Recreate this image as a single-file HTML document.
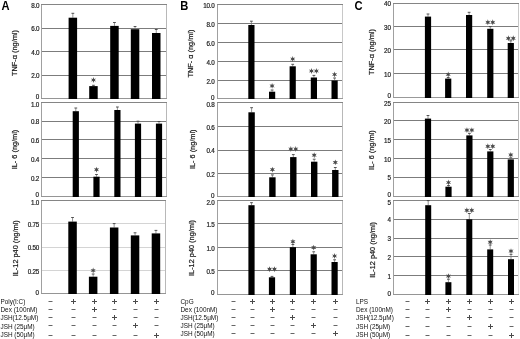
<!DOCTYPE html><html><head><meta charset="utf-8"><style>html,body{margin:0;padding:0;background:#fff;width:520px;height:339px;overflow:hidden}svg{display:block;will-change:transform}</style></head><body>
<svg width="520" height="339" viewBox="0 0 520 339" font-family='"Liberation Sans", sans-serif'>
<text transform="translate(1.4,9.6) scale(1,1.08)" font-size="11.2" font-weight="bold" fill="#000">A</text>
<text transform="translate(180.3,9.7) scale(1,1.08)" font-size="11.2" font-weight="bold" fill="#000">B</text>
<text transform="translate(354.6,9.5) scale(1,1.08)" font-size="11.2" font-weight="bold" fill="#000">C</text>
<line x1="41" y1="28.5" x2="167" y2="28.5" stroke="#7c7c7c" stroke-width="1"/>
<line x1="41" y1="51.5" x2="167" y2="51.5" stroke="#7c7c7c" stroke-width="1"/>
<line x1="41" y1="75.5" x2="167" y2="75.5" stroke="#7c7c7c" stroke-width="1"/>
<line x1="41.5" y1="4" x2="41.5" y2="99" stroke="#a0a0a0" stroke-width="1"/>
<line x1="166.5" y1="4" x2="166.5" y2="99" stroke="#b8b8b8" stroke-width="1"/>
<line x1="41" y1="4.5" x2="167" y2="4.5" stroke="#858585" stroke-width="1"/>
<line x1="41" y1="98.5" x2="167" y2="98.5" stroke="#959595" stroke-width="1"/>
<text x="39.2" y="7.75" text-anchor="end" font-size="6.3" fill="#222" stroke="#222" stroke-width="0.2" letter-spacing="-0.25">8.0</text>
<text x="39.2" y="31.25" text-anchor="end" font-size="6.3" fill="#222" stroke="#222" stroke-width="0.2" letter-spacing="-0.25">6.0</text>
<text x="39.2" y="54.85" text-anchor="end" font-size="6.3" fill="#222" stroke="#222" stroke-width="0.2" letter-spacing="-0.25">4.0</text>
<text x="39.2" y="78.45" text-anchor="end" font-size="6.3" fill="#222" stroke="#222" stroke-width="0.2" letter-spacing="-0.25">2.0</text>
<text x="39.2" y="99.45" text-anchor="end" font-size="6.3" fill="#222" stroke="#222" stroke-width="0.2">0</text>
<line x1="72.85" y1="13.3" x2="72.85" y2="17.7" stroke="#777" stroke-width="0.8"/>
<line x1="71.45" y1="13.3" x2="74.25" y2="13.3" stroke="#444" stroke-width="0.9"/>
<rect x="68.6" y="17.7" width="8.5" height="81.30" fill="#000"/>
<line x1="93.45" y1="85.3" x2="93.45" y2="86.1" stroke="#777" stroke-width="0.8"/>
<line x1="92.05" y1="85.3" x2="94.85" y2="85.3" stroke="#444" stroke-width="0.9"/>
<rect x="89.2" y="86.1" width="8.5" height="12.90" fill="#000"/>
<polygon points="93.45,77.05 94.08,78.92 96.00,78.53 94.70,80.00 96.00,81.47 94.08,81.08 93.45,82.95 92.83,81.08 90.90,81.47 92.20,80.00 90.90,78.53 92.83,78.92" fill="#4a4a4a"/>
<line x1="114.45" y1="22.5" x2="114.45" y2="25.9" stroke="#777" stroke-width="0.8"/>
<line x1="113.05" y1="22.5" x2="115.85" y2="22.5" stroke="#444" stroke-width="0.9"/>
<rect x="110.2" y="25.9" width="8.5" height="73.10" fill="#000"/>
<line x1="135.05" y1="26.5" x2="135.05" y2="29.2" stroke="#777" stroke-width="0.8"/>
<line x1="133.65" y1="26.5" x2="136.45" y2="26.5" stroke="#444" stroke-width="0.9"/>
<rect x="130.8" y="29.2" width="8.5" height="69.80" fill="#000"/>
<line x1="156.25" y1="29.5" x2="156.25" y2="33" stroke="#777" stroke-width="0.8"/>
<line x1="154.85" y1="29.5" x2="157.65" y2="29.5" stroke="#444" stroke-width="0.9"/>
<rect x="152" y="33" width="8.5" height="66.00" fill="#000"/>
<text transform="translate(16.9,53.0) rotate(-90)" text-anchor="middle" font-size="7.35" fill="#1a1a1a" stroke="#1a1a1a" stroke-width="0.2">TNF-α (ng/ml)</text>
<line x1="41" y1="121.5" x2="167" y2="121.5" stroke="#7c7c7c" stroke-width="1"/>
<line x1="41" y1="139.5" x2="167" y2="139.5" stroke="#7c7c7c" stroke-width="1"/>
<line x1="41" y1="158.5" x2="167" y2="158.5" stroke="#7c7c7c" stroke-width="1"/>
<line x1="41" y1="177.5" x2="167" y2="177.5" stroke="#7c7c7c" stroke-width="1"/>
<line x1="41.5" y1="102" x2="41.5" y2="197" stroke="#a0a0a0" stroke-width="1"/>
<line x1="166.5" y1="102" x2="166.5" y2="197" stroke="#b8b8b8" stroke-width="1"/>
<line x1="41" y1="102.5" x2="167" y2="102.5" stroke="#858585" stroke-width="1"/>
<line x1="41" y1="196.5" x2="167" y2="196.5" stroke="#959595" stroke-width="1"/>
<text x="39" y="106.85" text-anchor="end" font-size="6.3" fill="#222" stroke="#222" stroke-width="0.2" letter-spacing="-0.25">1.0</text>
<text x="39" y="124.43" text-anchor="end" font-size="6.3" fill="#222" stroke="#222" stroke-width="0.2" letter-spacing="-0.25">0.8</text>
<text x="39" y="143.21" text-anchor="end" font-size="6.3" fill="#222" stroke="#222" stroke-width="0.2" letter-spacing="-0.25">0.6</text>
<text x="39" y="161.99" text-anchor="end" font-size="6.3" fill="#222" stroke="#222" stroke-width="0.2" letter-spacing="-0.25">0.4</text>
<text x="39" y="180.77" text-anchor="end" font-size="6.3" fill="#222" stroke="#222" stroke-width="0.2" letter-spacing="-0.25">0.2</text>
<text x="39" y="197.45" text-anchor="end" font-size="6.3" fill="#222" stroke="#222" stroke-width="0.2">0</text>
<line x1="75.80" y1="108" x2="75.80" y2="111.2" stroke="#777" stroke-width="0.8"/>
<line x1="74.40" y1="108" x2="77.20" y2="108" stroke="#444" stroke-width="0.9"/>
<rect x="72.7" y="111.2" width="6.2" height="85.80" fill="#000"/>
<line x1="96.50" y1="174.5" x2="96.50" y2="176.7" stroke="#777" stroke-width="0.8"/>
<line x1="95.10" y1="174.5" x2="97.90" y2="174.5" stroke="#444" stroke-width="0.9"/>
<rect x="93.4" y="176.7" width="6.2" height="20.30" fill="#000"/>
<polygon points="96.50,166.75 97.12,168.62 99.05,168.22 97.75,169.70 99.05,171.17 97.12,170.78 96.50,172.65 95.88,170.78 93.95,171.17 95.25,169.70 93.95,168.22 95.88,168.62" fill="#4a4a4a"/>
<line x1="117.40" y1="107" x2="117.40" y2="110" stroke="#777" stroke-width="0.8"/>
<line x1="116.00" y1="107" x2="118.80" y2="107" stroke="#444" stroke-width="0.9"/>
<rect x="114.3" y="110" width="6.2" height="87.00" fill="#000"/>
<line x1="138.00" y1="121.2" x2="138.00" y2="123.6" stroke="#777" stroke-width="0.8"/>
<line x1="136.60" y1="121.2" x2="139.40" y2="121.2" stroke="#444" stroke-width="0.9"/>
<rect x="134.9" y="123.6" width="6.2" height="73.40" fill="#000"/>
<line x1="159.00" y1="121.5" x2="159.00" y2="123.6" stroke="#777" stroke-width="0.8"/>
<line x1="157.60" y1="121.5" x2="160.40" y2="121.5" stroke="#444" stroke-width="0.9"/>
<rect x="155.9" y="123.6" width="6.2" height="73.40" fill="#000"/>
<text transform="translate(17.0,149.5) rotate(-90)" text-anchor="middle" font-size="7.35" fill="#1a1a1a" stroke="#1a1a1a" stroke-width="0.2">IL- 6 (ng/ml)</text>
<line x1="41" y1="223.5" x2="166" y2="223.5" stroke="#d4d4d4" stroke-width="1"/>
<line x1="41" y1="247.5" x2="166" y2="247.5" stroke="#d4d4d4" stroke-width="1"/>
<line x1="41" y1="270.5" x2="166" y2="270.5" stroke="#d4d4d4" stroke-width="1"/>
<line x1="41.5" y1="200" x2="41.5" y2="294" stroke="#a0a0a0" stroke-width="1"/>
<line x1="165.5" y1="200" x2="165.5" y2="294" stroke="#b8b8b8" stroke-width="1"/>
<line x1="41" y1="200.5" x2="166" y2="200.5" stroke="#858585" stroke-width="1"/>
<line x1="41" y1="293.5" x2="166" y2="293.5" stroke="#959595" stroke-width="1"/>
<text x="39" y="204.75" text-anchor="end" font-size="6.3" fill="#222" stroke="#222" stroke-width="0.2" letter-spacing="-0.25">1.0</text>
<text x="39" y="226.95" text-anchor="end" font-size="6.3" fill="#222" stroke="#222" stroke-width="0.2" letter-spacing="-0.25">0.75</text>
<text x="39" y="250.35" text-anchor="end" font-size="6.3" fill="#222" stroke="#222" stroke-width="0.2" letter-spacing="-0.25">0.50</text>
<text x="39" y="273.75" text-anchor="end" font-size="6.3" fill="#222" stroke="#222" stroke-width="0.2" letter-spacing="-0.25">0.25</text>
<text x="39" y="295.05" text-anchor="end" font-size="6.3" fill="#222" stroke="#222" stroke-width="0.2">0</text>
<line x1="72.55" y1="217.5" x2="72.55" y2="221.6" stroke="#777" stroke-width="0.8"/>
<line x1="71.15" y1="217.5" x2="73.95" y2="217.5" stroke="#444" stroke-width="0.9"/>
<rect x="68.3" y="221.6" width="8.5" height="72.40" fill="#000"/>
<line x1="93.15" y1="274" x2="93.15" y2="276.7" stroke="#777" stroke-width="0.8"/>
<line x1="91.75" y1="274" x2="94.55" y2="274" stroke="#444" stroke-width="0.9"/>
<rect x="88.9" y="276.7" width="8.5" height="17.30" fill="#000"/>
<polygon points="93.15,267.55 93.78,269.42 95.70,269.02 94.40,270.50 95.70,271.98 93.78,271.58 93.15,273.45 92.53,271.58 90.60,271.98 91.90,270.50 90.60,269.02 92.53,269.42" fill="#4a4a4a"/>
<line x1="114.15" y1="223.6" x2="114.15" y2="227.5" stroke="#777" stroke-width="0.8"/>
<line x1="112.75" y1="223.6" x2="115.55" y2="223.6" stroke="#444" stroke-width="0.9"/>
<rect x="109.9" y="227.5" width="8.5" height="66.50" fill="#000"/>
<line x1="135.05" y1="232.8" x2="135.05" y2="235.4" stroke="#777" stroke-width="0.8"/>
<line x1="133.65" y1="232.8" x2="136.45" y2="232.8" stroke="#444" stroke-width="0.9"/>
<rect x="130.8" y="235.4" width="8.5" height="58.60" fill="#000"/>
<line x1="155.95" y1="230.4" x2="155.95" y2="233.4" stroke="#777" stroke-width="0.8"/>
<line x1="154.55" y1="230.4" x2="157.35" y2="230.4" stroke="#444" stroke-width="0.9"/>
<rect x="151.7" y="233.4" width="8.5" height="60.60" fill="#000"/>
<text transform="translate(18.0,248.3) rotate(-90)" text-anchor="middle" font-size="7.35" fill="#1a1a1a" stroke="#1a1a1a" stroke-width="0.2">IL-12 p40 (ng/ml)</text>
<text x="0.5" y="303.80" font-size="6.4" fill="#111">Poly(I:C)</text>
<text x="0.5" y="311.80" font-size="6.4" fill="#111">Dex (100nM)</text>
<text x="0.5" y="320.30" font-size="6.4" fill="#111">JSH(12.5μM)</text>
<text x="0.5" y="328.80" font-size="6.4" fill="#111">JSH (25μM)</text>
<text x="0.5" y="336.80" font-size="6.4" fill="#111">JSH (50μM)</text>
<path d="M71 301.5H76M73.5 299V304M92 301.5H97M94.5 299V304M112 301.5H117M114.5 299V304M133 301.5H138M135.5 299V304M154 301.5H159M156.5 299V304M92 309.5H97M94.5 307V312M112 317.5H117M114.5 315V320M133 325.5H138M135.5 323V328M154 335.5H159M156.5 333V338" stroke="#4a4a4a" stroke-width="1" fill="none"/>
<path d="M48.5 301.5H52.5M48.5 309.5H52.5M71.5 309.5H75.5M112.5 309.5H116.5M133.5 309.5H137.5M154.5 309.5H158.5M48.5 317.5H52.5M71.5 317.5H75.5M92.5 317.5H96.5M133.5 317.5H137.5M154.5 317.5H158.5M48.5 325.5H52.5M71.5 325.5H75.5M92.5 325.5H96.5M112.5 325.5H116.5M154.5 325.5H158.5M48.5 335.5H52.5M71.5 335.5H75.5M92.5 335.5H96.5M112.5 335.5H116.5M133.5 335.5H137.5" stroke="#666" stroke-width="1" fill="none"/>
<line x1="217" y1="23.5" x2="343" y2="23.5" stroke="#7c7c7c" stroke-width="1"/>
<line x1="217" y1="42.5" x2="343" y2="42.5" stroke="#7c7c7c" stroke-width="1"/>
<line x1="217" y1="61.5" x2="343" y2="61.5" stroke="#7c7c7c" stroke-width="1"/>
<line x1="217" y1="80.5" x2="343" y2="80.5" stroke="#7c7c7c" stroke-width="1"/>
<line x1="217.5" y1="4" x2="217.5" y2="99" stroke="#a0a0a0" stroke-width="1"/>
<line x1="342.5" y1="4" x2="342.5" y2="99" stroke="#c8c8c8" stroke-width="1"/>
<line x1="217" y1="4.5" x2="343" y2="4.5" stroke="#858585" stroke-width="1"/>
<line x1="217" y1="98.5" x2="343" y2="98.5" stroke="#999" stroke-width="1"/>
<text x="214.5" y="7.85" text-anchor="end" font-size="6.3" fill="#222" stroke="#222" stroke-width="0.2" letter-spacing="-0.25">10.0</text>
<text x="214.5" y="26.65" text-anchor="end" font-size="6.3" fill="#222" stroke="#222" stroke-width="0.2" letter-spacing="-0.25">8.0</text>
<text x="214.5" y="45.55" text-anchor="end" font-size="6.3" fill="#222" stroke="#222" stroke-width="0.2" letter-spacing="-0.25">6.0</text>
<text x="214.5" y="64.55" text-anchor="end" font-size="6.3" fill="#222" stroke="#222" stroke-width="0.2" letter-spacing="-0.25">4.0</text>
<text x="214.5" y="83.55" text-anchor="end" font-size="6.3" fill="#222" stroke="#222" stroke-width="0.2" letter-spacing="-0.25">2.0</text>
<text x="214.5" y="99.95" text-anchor="end" font-size="6.3" fill="#222" stroke="#222" stroke-width="0.2">0</text>
<line x1="251.40" y1="21.2" x2="251.40" y2="25" stroke="#777" stroke-width="0.8"/>
<line x1="250.00" y1="21.2" x2="252.80" y2="21.2" stroke="#444" stroke-width="0.9"/>
<rect x="248.3" y="25" width="6.2" height="74.00" fill="#000"/>
<line x1="272.10" y1="90" x2="272.10" y2="91.7" stroke="#777" stroke-width="0.8"/>
<line x1="270.70" y1="90" x2="273.50" y2="90" stroke="#444" stroke-width="0.9"/>
<rect x="269" y="91.7" width="6.2" height="7.30" fill="#000"/>
<polygon points="272.10,82.95 272.73,84.82 274.65,84.43 273.35,85.90 274.65,87.38 272.73,86.98 272.10,88.85 271.48,86.98 269.55,87.38 270.85,85.90 269.55,84.43 271.48,84.82" fill="#4a4a4a"/>
<line x1="292.70" y1="64.3" x2="292.70" y2="66.3" stroke="#777" stroke-width="0.8"/>
<line x1="291.30" y1="64.3" x2="294.10" y2="64.3" stroke="#444" stroke-width="0.9"/>
<rect x="289.6" y="66.3" width="6.2" height="32.70" fill="#000"/>
<polygon points="292.70,56.05 293.33,57.92 295.25,57.52 293.95,59.00 295.25,60.48 293.33,60.08 292.70,61.95 292.08,60.08 290.15,60.48 291.45,59.00 290.15,57.52 292.08,57.92" fill="#4a4a4a"/>
<line x1="313.90" y1="75.4" x2="313.90" y2="77.5" stroke="#777" stroke-width="0.8"/>
<line x1="312.50" y1="75.4" x2="315.30" y2="75.4" stroke="#444" stroke-width="0.9"/>
<rect x="310.8" y="77.5" width="6.2" height="21.50" fill="#000"/>
<polygon points="311.45,68.05 312.08,69.92 314.00,69.53 312.70,71.00 314.00,72.47 312.08,72.08 311.45,73.95 310.83,72.08 308.90,72.47 310.20,71.00 308.90,69.53 310.83,69.92" fill="#4a4a4a"/>
<polygon points="316.35,68.05 316.98,69.92 318.90,69.53 317.60,71.00 318.90,72.47 316.98,72.08 316.35,73.95 315.73,72.08 313.80,72.47 315.10,71.00 313.80,69.53 315.73,69.92" fill="#4a4a4a"/>
<line x1="334.60" y1="78" x2="334.60" y2="80.5" stroke="#777" stroke-width="0.8"/>
<line x1="333.20" y1="78" x2="336.00" y2="78" stroke="#444" stroke-width="0.9"/>
<rect x="331.5" y="80.5" width="6.2" height="18.50" fill="#000"/>
<polygon points="334.60,71.55 335.23,73.42 337.15,73.03 335.85,74.50 337.15,75.97 335.23,75.58 334.60,77.45 333.98,75.58 332.05,75.97 333.35,74.50 332.05,73.03 333.98,73.42" fill="#4a4a4a"/>
<text transform="translate(193.0,53.5) rotate(-90)" text-anchor="middle" font-size="7.35" fill="#1a1a1a" stroke="#1a1a1a" stroke-width="0.2">TNF- α (ng/ml)</text>
<line x1="217" y1="126.5" x2="343" y2="126.5" stroke="#7c7c7c" stroke-width="1"/>
<line x1="217" y1="150.5" x2="343" y2="150.5" stroke="#7c7c7c" stroke-width="1"/>
<line x1="217" y1="173.5" x2="343" y2="173.5" stroke="#7c7c7c" stroke-width="1"/>
<line x1="217.5" y1="102" x2="217.5" y2="197" stroke="#a0a0a0" stroke-width="1"/>
<line x1="342.5" y1="102" x2="342.5" y2="197" stroke="#b8b8b8" stroke-width="1"/>
<line x1="217" y1="102.5" x2="343" y2="102.5" stroke="#858585" stroke-width="1"/>
<line x1="217" y1="196.5" x2="343" y2="196.5" stroke="#959595" stroke-width="1"/>
<text x="214.5" y="107.05" text-anchor="end" font-size="6.3" fill="#222" stroke="#222" stroke-width="0.2" letter-spacing="-0.25">0.8</text>
<text x="214.5" y="129.65" text-anchor="end" font-size="6.3" fill="#222" stroke="#222" stroke-width="0.2" letter-spacing="-0.25">0.6</text>
<text x="214.5" y="153.45" text-anchor="end" font-size="6.3" fill="#222" stroke="#222" stroke-width="0.2" letter-spacing="-0.25">0.4</text>
<text x="214.5" y="176.65" text-anchor="end" font-size="6.3" fill="#222" stroke="#222" stroke-width="0.2" letter-spacing="-0.25">0.2</text>
<text x="214.5" y="197.55" text-anchor="end" font-size="6.3" fill="#222" stroke="#222" stroke-width="0.2">0</text>
<line x1="251.60" y1="107.7" x2="251.60" y2="112.3" stroke="#777" stroke-width="0.8"/>
<line x1="250.20" y1="107.7" x2="253.00" y2="107.7" stroke="#444" stroke-width="0.9"/>
<rect x="248.4" y="112.3" width="6.4" height="84.70" fill="#000"/>
<line x1="272.40" y1="174.9" x2="272.40" y2="177.3" stroke="#777" stroke-width="0.8"/>
<line x1="271.00" y1="174.9" x2="273.80" y2="174.9" stroke="#444" stroke-width="0.9"/>
<rect x="269.2" y="177.3" width="6.4" height="19.70" fill="#000"/>
<polygon points="272.40,166.65 273.02,168.52 274.95,168.12 273.65,169.60 274.95,171.07 273.02,170.68 272.40,172.55 271.77,170.68 269.85,171.07 271.15,169.60 269.85,168.12 271.77,168.52" fill="#4a4a4a"/>
<line x1="293.30" y1="154.6" x2="293.30" y2="157.1" stroke="#777" stroke-width="0.8"/>
<line x1="291.90" y1="154.6" x2="294.70" y2="154.6" stroke="#444" stroke-width="0.9"/>
<rect x="290.1" y="157.1" width="6.4" height="39.90" fill="#000"/>
<polygon points="290.85,146.05 291.48,147.92 293.40,147.53 292.10,149.00 293.40,150.47 291.48,150.08 290.85,151.95 290.23,150.08 288.30,150.47 289.60,149.00 288.30,147.53 290.23,147.92" fill="#4a4a4a"/>
<polygon points="295.75,146.05 296.38,147.92 298.30,147.53 297.00,149.00 298.30,150.47 296.38,150.08 295.75,151.95 295.12,150.08 293.20,150.47 294.50,149.00 293.20,147.53 295.12,147.92" fill="#4a4a4a"/>
<line x1="314.20" y1="159.2" x2="314.20" y2="161.7" stroke="#777" stroke-width="0.8"/>
<line x1="312.80" y1="159.2" x2="315.60" y2="159.2" stroke="#444" stroke-width="0.9"/>
<rect x="311" y="161.7" width="6.4" height="35.30" fill="#000"/>
<polygon points="314.20,152.25 314.82,154.12 316.75,153.72 315.45,155.20 316.75,156.67 314.82,156.28 314.20,158.15 313.57,156.28 311.65,156.67 312.95,155.20 311.65,153.72 313.57,154.12" fill="#4a4a4a"/>
<line x1="335.30" y1="167.5" x2="335.30" y2="170" stroke="#777" stroke-width="0.8"/>
<line x1="333.90" y1="167.5" x2="336.70" y2="167.5" stroke="#444" stroke-width="0.9"/>
<rect x="332.1" y="170" width="6.4" height="27.00" fill="#000"/>
<polygon points="335.30,159.45 335.93,161.32 337.85,160.93 336.55,162.40 337.85,163.88 335.93,163.48 335.30,165.35 334.68,163.48 332.75,163.88 334.05,162.40 332.75,160.93 334.68,161.32" fill="#4a4a4a"/>
<text transform="translate(195.0,149.3) rotate(-90)" text-anchor="middle" font-size="7.35" fill="#1a1a1a" stroke="#1a1a1a" stroke-width="0.2">IL- 6 (ng/ml)</text>
<line x1="217" y1="223.5" x2="343" y2="223.5" stroke="#7c7c7c" stroke-width="1"/>
<line x1="217" y1="247.5" x2="343" y2="247.5" stroke="#7c7c7c" stroke-width="1"/>
<line x1="217" y1="270.5" x2="343" y2="270.5" stroke="#7c7c7c" stroke-width="1"/>
<line x1="217.5" y1="200" x2="217.5" y2="295" stroke="#a0a0a0" stroke-width="1"/>
<line x1="342.5" y1="200" x2="342.5" y2="295" stroke="#b8b8b8" stroke-width="1"/>
<line x1="217" y1="200.5" x2="343" y2="200.5" stroke="#858585" stroke-width="1"/>
<line x1="217" y1="294.5" x2="343" y2="294.5" stroke="#959595" stroke-width="1"/>
<text x="214.5" y="204.85" text-anchor="end" font-size="6.3" fill="#222" stroke="#222" stroke-width="0.2" letter-spacing="-0.25">2.0</text>
<text x="214.5" y="227.10" text-anchor="end" font-size="6.3" fill="#222" stroke="#222" stroke-width="0.2" letter-spacing="-0.25">1.5</text>
<text x="214.5" y="250.55" text-anchor="end" font-size="6.3" fill="#222" stroke="#222" stroke-width="0.2" letter-spacing="-0.25">1.0</text>
<text x="214.5" y="274.00" text-anchor="end" font-size="6.3" fill="#222" stroke="#222" stroke-width="0.2" letter-spacing="-0.25">0.5</text>
<text x="214.5" y="295.35" text-anchor="end" font-size="6.3" fill="#222" stroke="#222" stroke-width="0.2">0</text>
<line x1="251.50" y1="202.7" x2="251.50" y2="205.2" stroke="#777" stroke-width="0.8"/>
<line x1="250.10" y1="202.7" x2="252.90" y2="202.7" stroke="#444" stroke-width="0.9"/>
<rect x="248.4" y="205.2" width="6.2" height="89.80" fill="#000"/>
<line x1="272.00" y1="276.4" x2="272.00" y2="277.3" stroke="#777" stroke-width="0.8"/>
<line x1="270.60" y1="276.4" x2="273.40" y2="276.4" stroke="#444" stroke-width="0.9"/>
<rect x="268.9" y="277.3" width="6.2" height="17.70" fill="#000"/>
<polygon points="269.55,266.25 270.18,268.12 272.10,267.72 270.80,269.20 272.10,270.68 270.18,270.28 269.55,272.15 268.93,270.28 267.00,270.68 268.30,269.20 267.00,267.72 268.93,268.12" fill="#4a4a4a"/>
<polygon points="274.45,266.25 275.07,268.12 277.00,267.72 275.70,269.20 277.00,270.68 275.07,270.28 274.45,272.15 273.82,270.28 271.90,270.68 273.20,269.20 271.90,267.72 273.82,268.12" fill="#4a4a4a"/>
<line x1="292.90" y1="244.5" x2="292.90" y2="247.2" stroke="#777" stroke-width="0.8"/>
<line x1="291.50" y1="244.5" x2="294.30" y2="244.5" stroke="#444" stroke-width="0.9"/>
<rect x="289.8" y="247.2" width="6.2" height="47.80" fill="#000"/>
<polygon points="292.90,238.75 293.53,240.62 295.45,240.22 294.15,241.70 295.45,243.17 293.53,242.78 292.90,244.65 292.28,242.78 290.35,243.17 291.65,241.70 290.35,240.22 292.28,240.62" fill="#4a4a4a"/>
<line x1="313.70" y1="251.8" x2="313.70" y2="254.3" stroke="#777" stroke-width="0.8"/>
<line x1="312.30" y1="251.8" x2="315.10" y2="251.8" stroke="#444" stroke-width="0.9"/>
<rect x="310.6" y="254.3" width="6.2" height="40.70" fill="#000"/>
<polygon points="313.70,244.65 314.33,246.52 316.25,246.12 314.95,247.60 316.25,249.07 314.33,248.68 313.70,250.55 313.08,248.68 311.15,249.07 312.45,247.60 311.15,246.12 313.08,246.52" fill="#4a4a4a"/>
<line x1="334.60" y1="259.8" x2="334.60" y2="262" stroke="#777" stroke-width="0.8"/>
<line x1="333.20" y1="259.8" x2="336.00" y2="259.8" stroke="#444" stroke-width="0.9"/>
<rect x="331.5" y="262" width="6.2" height="33.00" fill="#000"/>
<polygon points="334.60,253.05 335.23,254.92 337.15,254.53 335.85,256.00 337.15,257.48 335.23,257.08 334.60,258.95 333.98,257.08 332.05,257.48 333.35,256.00 332.05,254.53 333.98,254.92" fill="#4a4a4a"/>
<text transform="translate(194.0,248) rotate(-90)" text-anchor="middle" font-size="7.35" fill="#1a1a1a" stroke="#1a1a1a" stroke-width="0.2">IL-12 p40 (ng/ml)</text>
<text x="180.5" y="303.50" font-size="6.4" fill="#111">CpG</text>
<text x="180.5" y="312.10" font-size="6.4" fill="#111">Dex (100nM)</text>
<text x="180.5" y="320.30" font-size="6.4" fill="#111">JSH(12.5μM)</text>
<text x="180.5" y="328.10" font-size="6.4" fill="#111">JSH (25μM)</text>
<text x="180.5" y="335.90" font-size="6.4" fill="#111">JSH (50μM)</text>
<path d="M250 301.5H255M252.5 299V304M270 301.5H275M272.5 299V304M290 301.5H295M292.5 299V304M311 301.5H316M313.5 299V304M333 301.5H338M335.5 299V304M270 309.5H275M272.5 307V312M290 317.5H295M292.5 315V320M311 325.5H316M313.5 323V328M333 333.5H338M335.5 331V336" stroke="#4a4a4a" stroke-width="1" fill="none"/>
<path d="M231.5 301.5H235.5M231.5 309.5H235.5M250.5 309.5H254.5M290.5 309.5H294.5M311.5 309.5H315.5M333.5 309.5H337.5M231.5 317.5H235.5M250.5 317.5H254.5M270.5 317.5H274.5M311.5 317.5H315.5M333.5 317.5H337.5M231.5 325.5H235.5M250.5 325.5H254.5M270.5 325.5H274.5M290.5 325.5H294.5M333.5 325.5H337.5M231.5 333.5H235.5M250.5 333.5H254.5M270.5 333.5H274.5M290.5 333.5H294.5M311.5 333.5H315.5" stroke="#666" stroke-width="1" fill="none"/>
<line x1="393" y1="26.5" x2="519" y2="26.5" stroke="#7c7c7c" stroke-width="1"/>
<line x1="393" y1="49.5" x2="519" y2="49.5" stroke="#7c7c7c" stroke-width="1"/>
<line x1="393" y1="73.5" x2="519" y2="73.5" stroke="#7c7c7c" stroke-width="1"/>
<line x1="393.5" y1="3" x2="393.5" y2="98" stroke="#a0a0a0" stroke-width="1"/>
<line x1="518.5" y1="3" x2="518.5" y2="98" stroke="#c8c8c8" stroke-width="1"/>
<line x1="393" y1="3.5" x2="519" y2="3.5" stroke="#858585" stroke-width="1"/>
<line x1="393" y1="97.5" x2="519" y2="97.5" stroke="#999" stroke-width="1"/>
<text x="391" y="6.35" text-anchor="end" font-size="6.3" fill="#222" stroke="#222" stroke-width="0.2">40</text>
<text x="391" y="29.75" text-anchor="end" font-size="6.3" fill="#222" stroke="#222" stroke-width="0.2">30</text>
<text x="391" y="53.15" text-anchor="end" font-size="6.3" fill="#222" stroke="#222" stroke-width="0.2">20</text>
<text x="391" y="76.65" text-anchor="end" font-size="6.3" fill="#222" stroke="#222" stroke-width="0.2">10</text>
<text x="391" y="98.25" text-anchor="end" font-size="6.3" fill="#222" stroke="#222" stroke-width="0.2">0</text>
<line x1="428.00" y1="14" x2="428.00" y2="16.6" stroke="#777" stroke-width="0.8"/>
<line x1="426.60" y1="14" x2="429.40" y2="14" stroke="#444" stroke-width="0.9"/>
<rect x="424.9" y="16.6" width="6.2" height="81.40" fill="#000"/>
<line x1="448.20" y1="77.5" x2="448.20" y2="78.6" stroke="#777" stroke-width="0.8"/>
<line x1="446.80" y1="77.5" x2="449.60" y2="77.5" stroke="#444" stroke-width="0.9"/>
<rect x="445.1" y="78.6" width="6.2" height="19.40" fill="#000"/>
<polygon points="448.20,71.55 448.83,73.42 450.75,73.03 449.45,74.50 450.75,75.97 448.83,75.58 448.20,77.45 447.58,75.58 445.65,75.97 446.95,74.50 445.65,73.03 447.58,73.42" fill="#4a4a4a"/>
<line x1="469.10" y1="12.3" x2="469.10" y2="15" stroke="#777" stroke-width="0.8"/>
<line x1="467.70" y1="12.3" x2="470.50" y2="12.3" stroke="#444" stroke-width="0.9"/>
<rect x="466" y="15" width="6.2" height="83.00" fill="#000"/>
<line x1="490.30" y1="26.6" x2="490.30" y2="28.8" stroke="#777" stroke-width="0.8"/>
<line x1="488.90" y1="26.6" x2="491.70" y2="26.6" stroke="#444" stroke-width="0.9"/>
<rect x="487.2" y="28.8" width="6.2" height="69.20" fill="#000"/>
<polygon points="487.85,19.35 488.48,21.22 490.40,20.82 489.10,22.30 490.40,23.78 488.48,23.38 487.85,25.25 487.23,23.38 485.30,23.78 486.60,22.30 485.30,20.82 487.23,21.22" fill="#4a4a4a"/>
<polygon points="492.75,19.35 493.38,21.22 495.30,20.82 494.00,22.30 495.30,23.78 493.38,23.38 492.75,25.25 492.12,23.38 490.20,23.78 491.50,22.30 490.20,20.82 492.12,21.22" fill="#4a4a4a"/>
<line x1="510.80" y1="40.8" x2="510.80" y2="43" stroke="#777" stroke-width="0.8"/>
<line x1="509.40" y1="40.8" x2="512.20" y2="40.8" stroke="#444" stroke-width="0.9"/>
<rect x="507.7" y="43" width="6.2" height="55.00" fill="#000"/>
<polygon points="508.35,35.35 508.98,37.22 510.90,36.82 509.60,38.30 510.90,39.77 508.98,39.38 508.35,41.25 507.73,39.38 505.80,39.77 507.10,38.30 505.80,36.82 507.73,37.22" fill="#4a4a4a"/>
<polygon points="513.25,35.35 513.88,37.22 515.80,36.82 514.50,38.30 515.80,39.77 513.88,39.38 513.25,41.25 512.62,39.38 510.70,39.77 512.00,38.30 510.70,36.82 512.62,37.22" fill="#4a4a4a"/>
<text transform="translate(373.8,52) rotate(-90)" text-anchor="middle" font-size="7.35" fill="#1a1a1a" stroke="#1a1a1a" stroke-width="0.2">TNF-α (ng/ml)</text>
<line x1="393" y1="120.5" x2="519" y2="120.5" stroke="#7c7c7c" stroke-width="1"/>
<line x1="393" y1="139.5" x2="519" y2="139.5" stroke="#7c7c7c" stroke-width="1"/>
<line x1="393" y1="158.5" x2="519" y2="158.5" stroke="#7c7c7c" stroke-width="1"/>
<line x1="393" y1="177.5" x2="519" y2="177.5" stroke="#7c7c7c" stroke-width="1"/>
<line x1="393.5" y1="102" x2="393.5" y2="197" stroke="#a0a0a0" stroke-width="1"/>
<line x1="518.5" y1="102" x2="518.5" y2="197" stroke="#b8b8b8" stroke-width="1"/>
<line x1="393" y1="102.5" x2="519" y2="102.5" stroke="#858585" stroke-width="1"/>
<line x1="393" y1="196.5" x2="519" y2="196.5" stroke="#959595" stroke-width="1"/>
<text x="391" y="106.45" text-anchor="end" font-size="6.3" fill="#222" stroke="#222" stroke-width="0.2">25</text>
<text x="391" y="124.05" text-anchor="end" font-size="6.3" fill="#222" stroke="#222" stroke-width="0.2">20</text>
<text x="391" y="142.85" text-anchor="end" font-size="6.3" fill="#222" stroke="#222" stroke-width="0.2">15</text>
<text x="391" y="161.65" text-anchor="end" font-size="6.3" fill="#222" stroke="#222" stroke-width="0.2">10</text>
<text x="391" y="180.45" text-anchor="end" font-size="6.3" fill="#222" stroke="#222" stroke-width="0.2">5</text>
<text x="391" y="197.15" text-anchor="end" font-size="6.3" fill="#222" stroke="#222" stroke-width="0.2">0</text>
<line x1="428.00" y1="115.5" x2="428.00" y2="118.6" stroke="#777" stroke-width="0.8"/>
<line x1="426.60" y1="115.5" x2="429.40" y2="115.5" stroke="#444" stroke-width="0.9"/>
<rect x="424.9" y="118.6" width="6.2" height="78.40" fill="#000"/>
<line x1="448.50" y1="185.5" x2="448.50" y2="186.7" stroke="#777" stroke-width="0.8"/>
<line x1="447.10" y1="185.5" x2="449.90" y2="185.5" stroke="#444" stroke-width="0.9"/>
<rect x="445.4" y="186.7" width="6.2" height="10.30" fill="#000"/>
<polygon points="448.50,179.55 449.12,181.42 451.05,181.03 449.75,182.50 451.05,183.97 449.12,183.58 448.50,185.45 447.88,183.58 445.95,183.97 447.25,182.50 445.95,181.03 447.88,181.42" fill="#4a4a4a"/>
<line x1="469.40" y1="133.3" x2="469.40" y2="135.4" stroke="#777" stroke-width="0.8"/>
<line x1="468.00" y1="133.3" x2="470.80" y2="133.3" stroke="#444" stroke-width="0.9"/>
<rect x="466.3" y="135.4" width="6.2" height="61.60" fill="#000"/>
<polygon points="466.95,127.15 467.58,129.02 469.50,128.62 468.20,130.10 469.50,131.57 467.58,131.18 466.95,133.05 466.33,131.18 464.40,131.57 465.70,130.10 464.40,128.62 466.33,129.02" fill="#4a4a4a"/>
<polygon points="471.85,127.15 472.48,129.02 474.40,128.62 473.10,130.10 474.40,131.57 472.48,131.18 471.85,133.05 471.23,131.18 469.30,131.57 470.60,130.10 469.30,128.62 471.23,129.02" fill="#4a4a4a"/>
<line x1="490.30" y1="149.5" x2="490.30" y2="151.4" stroke="#777" stroke-width="0.8"/>
<line x1="488.90" y1="149.5" x2="491.70" y2="149.5" stroke="#444" stroke-width="0.9"/>
<rect x="487.2" y="151.4" width="6.2" height="45.60" fill="#000"/>
<polygon points="487.85,143.35 488.48,145.22 490.40,144.83 489.10,146.30 490.40,147.78 488.48,147.38 487.85,149.25 487.23,147.38 485.30,147.78 486.60,146.30 485.30,144.83 487.23,145.22" fill="#4a4a4a"/>
<polygon points="492.75,143.35 493.38,145.22 495.30,144.83 494.00,146.30 495.30,147.78 493.38,147.38 492.75,149.25 492.12,147.38 490.20,147.78 491.50,146.30 490.20,144.83 492.12,145.22" fill="#4a4a4a"/>
<line x1="510.80" y1="157.8" x2="510.80" y2="159.4" stroke="#777" stroke-width="0.8"/>
<line x1="509.40" y1="157.8" x2="512.20" y2="157.8" stroke="#444" stroke-width="0.9"/>
<rect x="507.7" y="159.4" width="6.2" height="37.60" fill="#000"/>
<polygon points="510.80,151.95 511.43,153.82 513.35,153.43 512.05,154.90 513.35,156.38 511.43,155.98 510.80,157.85 510.18,155.98 508.25,156.38 509.55,154.90 508.25,153.43 510.18,153.82" fill="#4a4a4a"/>
<text transform="translate(374.0,150.1) rotate(-90)" text-anchor="middle" font-size="7.35" fill="#1a1a1a" stroke="#1a1a1a" stroke-width="0.2">IL- 6 (ng/ml)</text>
<line x1="393" y1="219.5" x2="519" y2="219.5" stroke="#7c7c7c" stroke-width="1"/>
<line x1="393" y1="238.5" x2="519" y2="238.5" stroke="#7c7c7c" stroke-width="1"/>
<line x1="393" y1="256.5" x2="519" y2="256.5" stroke="#7c7c7c" stroke-width="1"/>
<line x1="393" y1="275.5" x2="519" y2="275.5" stroke="#7c7c7c" stroke-width="1"/>
<line x1="393.5" y1="200" x2="393.5" y2="295" stroke="#a0a0a0" stroke-width="1"/>
<line x1="518.5" y1="200" x2="518.5" y2="295" stroke="#e4e4e4" stroke-width="1"/>
<line x1="393" y1="200.5" x2="519" y2="200.5" stroke="#858585" stroke-width="1"/>
<line x1="393" y1="294.5" x2="519" y2="294.5" stroke="#959595" stroke-width="1"/>
<text x="391" y="204.85" text-anchor="end" font-size="6.3" fill="#222" stroke="#222" stroke-width="0.2">5</text>
<text x="391" y="222.47" text-anchor="end" font-size="6.3" fill="#222" stroke="#222" stroke-width="0.2">4</text>
<text x="391" y="241.29" text-anchor="end" font-size="6.3" fill="#222" stroke="#222" stroke-width="0.2">3</text>
<text x="391" y="260.11" text-anchor="end" font-size="6.3" fill="#222" stroke="#222" stroke-width="0.2">2</text>
<text x="391" y="278.93" text-anchor="end" font-size="6.3" fill="#222" stroke="#222" stroke-width="0.2">1</text>
<text x="391" y="295.65" text-anchor="end" font-size="6.3" fill="#222" stroke="#222" stroke-width="0.2">0</text>
<line x1="428.20" y1="200.6" x2="428.20" y2="205.2" stroke="#777" stroke-width="0.8"/>
<line x1="426.80" y1="200.6" x2="429.60" y2="200.6" stroke="#444" stroke-width="0.9"/>
<rect x="425.2" y="205.2" width="6.0" height="89.80" fill="#000"/>
<line x1="448.40" y1="279.2" x2="448.40" y2="282.2" stroke="#777" stroke-width="0.8"/>
<line x1="447.00" y1="279.2" x2="449.80" y2="279.2" stroke="#444" stroke-width="0.9"/>
<rect x="445.4" y="282.2" width="6.0" height="12.80" fill="#000"/>
<polygon points="448.40,273.15 449.02,275.02 450.95,274.62 449.65,276.10 450.95,277.58 449.02,277.18 448.40,279.05 447.77,277.18 445.85,277.58 447.15,276.10 445.85,274.62 447.77,275.02" fill="#4a4a4a"/>
<line x1="469.30" y1="213.5" x2="469.30" y2="219.3" stroke="#777" stroke-width="0.8"/>
<line x1="467.90" y1="213.5" x2="470.70" y2="213.5" stroke="#444" stroke-width="0.9"/>
<rect x="466.3" y="219.3" width="6.0" height="75.70" fill="#000"/>
<polygon points="466.85,207.35 467.48,209.22 469.40,208.83 468.10,210.30 469.40,211.78 467.48,211.38 466.85,213.25 466.23,211.38 464.30,211.78 465.60,210.30 464.30,208.83 466.23,209.22" fill="#4a4a4a"/>
<polygon points="471.75,207.35 472.38,209.22 474.30,208.83 473.00,210.30 474.30,211.78 472.38,211.38 471.75,213.25 471.12,211.38 469.20,211.78 470.50,210.30 469.20,208.83 471.12,209.22" fill="#4a4a4a"/>
<line x1="490.20" y1="245" x2="490.20" y2="249.4" stroke="#777" stroke-width="0.8"/>
<line x1="488.80" y1="245" x2="491.60" y2="245" stroke="#444" stroke-width="0.9"/>
<rect x="487.2" y="249.4" width="6.0" height="45.60" fill="#000"/>
<polygon points="490.20,239.25 490.82,241.12 492.75,240.72 491.45,242.20 492.75,243.67 490.82,243.28 490.20,245.15 489.57,243.28 487.65,243.67 488.95,242.20 487.65,240.72 489.57,241.12" fill="#4a4a4a"/>
<line x1="511.00" y1="254.3" x2="511.00" y2="259.2" stroke="#777" stroke-width="0.8"/>
<line x1="509.60" y1="254.3" x2="512.40" y2="254.3" stroke="#444" stroke-width="0.9"/>
<rect x="508" y="259.2" width="6.0" height="35.80" fill="#000"/>
<polygon points="511.00,248.15 511.62,250.02 513.55,249.62 512.25,251.10 513.55,252.57 511.62,252.18 511.00,254.05 510.38,252.18 508.45,252.57 509.75,251.10 508.45,249.62 510.38,250.02" fill="#4a4a4a"/>
<text transform="translate(374.5,249.9) rotate(-90)" text-anchor="middle" font-size="7.35" fill="#1a1a1a" stroke="#1a1a1a" stroke-width="0.2">IL-12 p40 (ng/ml)</text>
<text x="356" y="303.60" font-size="6.4" fill="#111">LPS</text>
<text x="356" y="312.10" font-size="6.4" fill="#111">Dex (100nM)</text>
<text x="356" y="320.30" font-size="6.4" fill="#111">JSH(12.5μM)</text>
<text x="356" y="328.50" font-size="6.4" fill="#111">JSH (25μM)</text>
<text x="356" y="336.80" font-size="6.4" fill="#111">JSH (50μM)</text>
<path d="M425 301.5H430M427.5 299V304M446 301.5H451M448.5 299V304M467 301.5H472M469.5 299V304M488 301.5H493M490.5 299V304M509 301.5H514M511.5 299V304M446 309.5H451M448.5 307V312M467 317.5H472M469.5 315V320M488 326.5H493M490.5 324V329M509 335.5H514M511.5 333V338" stroke="#4a4a4a" stroke-width="1" fill="none"/>
<path d="M405.5 301.5H409.5M405.5 309.5H409.5M425.5 309.5H429.5M467.5 309.5H471.5M488.5 309.5H492.5M509.5 309.5H513.5M405.5 317.5H409.5M425.5 317.5H429.5M446.5 317.5H450.5M488.5 317.5H492.5M509.5 317.5H513.5M405.5 326.5H409.5M425.5 326.5H429.5M446.5 326.5H450.5M467.5 326.5H471.5M509.5 326.5H513.5M405.5 335.5H409.5M425.5 335.5H429.5M446.5 335.5H450.5M467.5 335.5H471.5M488.5 335.5H492.5" stroke="#666" stroke-width="1" fill="none"/>
</svg></body></html>
